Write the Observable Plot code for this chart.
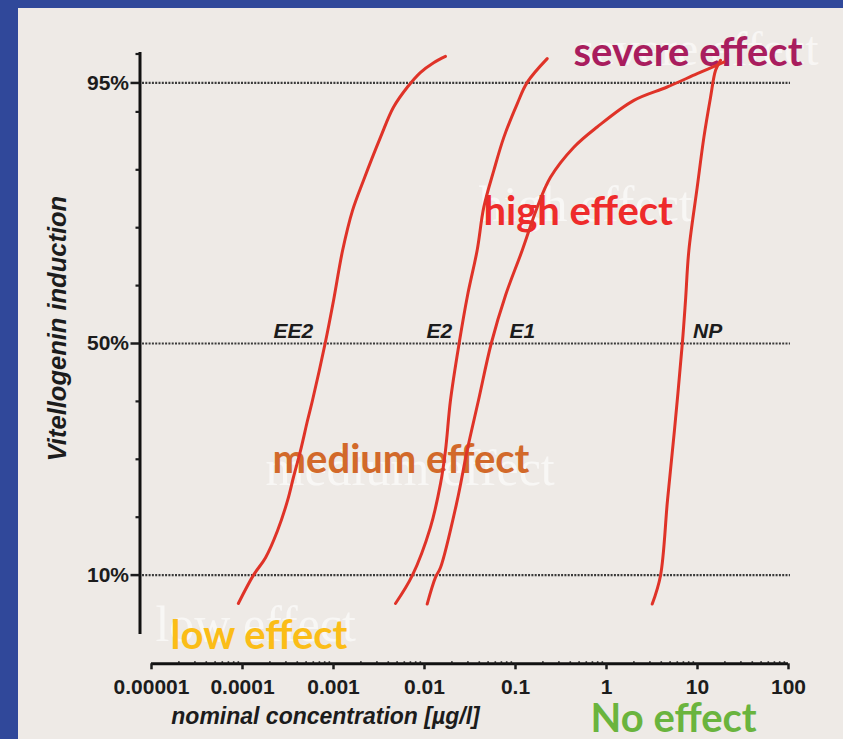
<!DOCTYPE html>
<html><head><meta charset="utf-8">
<script src="https://cdn.jsdelivr.net/npm/d3@7"></script>
<script src="https://cdn.jsdelivr.net/npm/@observablehq/plot@0.6"></script>
<style>
html,body{margin:0;padding:0;background:#30489a;width:843px;height:739px;overflow:hidden;}
#wrap{position:absolute;left:18px;top:8px;width:825px;height:731px;background:#eeeae6;}
</style></head><body><div id="wrap"></div>
<script>
// ---- data ----
const xTicks = [1e-5, 1e-4, 1e-3, 1e-2, 1e-1, 1, 10, 100];
const xTickLabels = ["0.00001", "0.0001", "0.001", "0.01", "0.1", "1", "10", "100"];
const yTicksMinor = [20, 30, 40, 60, 70, 80, 90, 100];
const yTicksLabeled = [10, 50, 95];
const yTickLabels = ["10%", "50%", "95%"];
const refLines = [10, 50, 95];

const concEE2 = [9.0e-5, 1.32e-4, 1.79e-4, 2.43e-4, 3.13e-4, 3.63e-4, 4.34e-4, 5.18e-4, 5.88e-4, 8.09e-4, 1.0e-3, 1.26e-3, 1.62e-3, 2.14e-3, 3.28e-3, 4.56e-3, 6.5e-3, 9.0e-3, 1.26e-2, 1.70e-2];
const pctEE2  = [5.1, 10, 13.0, 17.7, 22.9, 26.9, 31.5, 36.7, 40.2, 50, 57.4, 66.1, 73.0, 78.2, 85.6, 90.8, 94.3, 96.8, 98.5, 99.6];

const concE2 = [4.8e-3, 7.33e-3, 1.16e-2, 1.50e-2, 1.70e-2, 1.93e-2, 2.40e-2, 2.97e-2, 3.79e-2, 4.48e-2, 5.78e-2, 7.44e-2, 0.1044, 0.1345, 0.223];
const pctE2  = [5.1, 9.9, 18.2, 25.8, 31.5, 40.2, 50, 58.3, 66.1, 73.5, 79.9, 85.6, 91.4, 95.1, 99.2];

const concE1 = [1.07e-2, 1.32e-2, 1.5e-2, 2.29e-2, 2.94e-2, 3.92e-2, 5.41e-2, 7.76e-2, 0.1186, 0.173, 0.2424, 0.4375, 0.79, 2.0, 4.64, 9.93, 19.5];
const pctE1  = [5.0, 9.6, 11.3, 22.9, 31.5, 40.2, 50, 58.3, 66.1, 73.5, 78.7, 83.9, 87.4, 92.0, 94.3, 96.6, 98.6];

const concNP = [3.18, 3.92, 4.68, 5.58, 6.81, 7.38, 8.04, 9.93, 11.75, 13.9, 15.8, 17.9];
const pctNP  = [5.0, 9.9, 22.9, 35.0, 50, 57.4, 66.1, 77.0, 85.6, 92.5, 97.2, 98.9];

const seriesNames = ["EE2", "E2", "E1", "NP"];
const curveLabelX = [2.19e-4, 1.05e-2, 0.0859, 8.93];
const curveLabelY = [52.1, 52.1, 52.1, 52.1];

const effectLabels = ["severe effect", "high effect", "medium effect", "low effect", "No effect"];
const effectX = [0.434, 0.0445, 2.14e-4, 1.62e-5, 0.667];
const effectY = [100.2, 72.6, 29.9, -0.6, -14.8];
const effectColors = ["#a91d5e", "#ee2b2b", "#d2692a", "#fbbd17", "#6ab43e"];

const ghostLabels = ["high effect", "medium effect", "low effect"];
const ghostX = [0.0392, 1.79e-4, 1.106e-5];
const ghostY = [73.9, 28.3, 1.36];
const ghostSevere = ["severe effect"];
const ghostSevereX = [214];
const ghostSevereY = [100.8];

const xTitle = "nominal concentration [µg/l]";
const yTitle = "Vitellogenin induction";

// ---- build table ----
const concs = [concEE2, concE2, concE1, concNP];
const pcts = [pctEE2, pctE2, pctE1, pctNP];
const curves = seriesNames.flatMap((s, i) => concs[i].map((c, j) => ({series: s, conc: c, pct: pcts[i][j]})));

const minorX = xTicks.slice(0, -1).flatMap(d => d3.range(2, 10).map(k => d * k));
const labelOf = new Map(xTicks.map((t, i) => [t, xTickLabels[i]]));
const yLabelOf = new Map(yTicksLabeled.map((t, i) => [t, yTickLabels[i]]));

const AX = "Liberation Sans, Arial, sans-serif";
const EF = "Lato, sans-serif";

const chart = Plot.plot({
  width: 825, height: 731,
  marginLeft: 124, marginRight: 53, marginTop: 45.5, marginBottom: 106.5,
  style: {background: "transparent", overflow: "visible"},
  x: {type: "log", domain: [1e-5, 100], range: [133, 770], axis: null},
  y: {domain: [0, 100], range: [624.5, 45.5], axis: null},
  marks: [
    // ghost lettering
    Plot.text(ghostLabels, {x: ghostX, y: ghostY, text: d => d, textAnchor: "start", lineAnchor: "middle",
      fontFamily: "Liberation Serif, serif", fontSize: 50, fill: "#ffffff", fillOpacity: 0.6}),
    Plot.text(ghostSevere, {x: ghostSevereX, y: ghostSevereY, text: d => d, textAnchor: "end", lineAnchor: "middle",
      fontFamily: "Liberation Serif, serif", fontSize: 48, fill: "#ffffff", fillOpacity: 0.6}),
    // dotted reference lines
    Plot.ruleY(refLines, {stroke: "#3a3a3a", strokeWidth: 2.2, strokeDasharray: "2,1.3"}),
    // axes
    Plot.ruleX([xTicks[0]], {y1: 0, y2: 100, dx: -11.5, stroke: "#111", strokeWidth: 3, strokeLinecap: "square"}),
    Plot.ruleY([0], {x1: xTicks[0], x2: xTicks[xTicks.length - 1], dy: 30.8, stroke: "#111", strokeWidth: 3}),
    Plot.axisX(xTicks, {anchor: "bottom", label: null, dy: 30.8, tickSize: 6, tickPadding: 9, strokeWidth: 2.5,
      tickFormat: d => labelOf.get(d), fontSize: 21, fontWeight: "bold", fontFamily: AX, color: "#1c1c1c"}),
    Plot.axisX(minorX, {anchor: "top", label: null, dy: 609.8, tickSize: 3, tickFormat: () => "", strokeWidth: 1.6, color: "#1c1c1c"}),
    Plot.axisY(yTicksMinor, {anchor: "left", label: null, dx: -2.5, tickSize: 4, tickFormat: () => "", strokeWidth: 2.2, color: "#1c1c1c"}),
    Plot.axisY(yTicksLabeled, {anchor: "left", label: null, dx: -2.5, tickSize: 9, tickPadding: 2, strokeWidth: 2.5,
      tickFormat: d => yLabelOf.get(d), fontSize: 21, fontWeight: "bold", fontFamily: AX, color: "#1c1c1c"}),
    Plot.text([xTitle], {frameAnchor: "bottom-left", dx: 183, dy: 84, text: d => d, textAnchor: "middle", lineAnchor: "middle",
      fontSize: 23, fontWeight: "bold", fontStyle: "italic", fontFamily: AX, fill: "#1c1c1c"}),
    Plot.text([yTitle], {frameAnchor: "left", dx: -85, dy: -15, rotate: -90, text: d => d, textAnchor: "middle", lineAnchor: "middle",
      fontSize: 25.5, fontWeight: "bold", fontStyle: "italic", fontFamily: AX, fill: "#1c1c1c"}),
    // curve labels
    Plot.text(seriesNames, {x: curveLabelX, y: curveLabelY, text: d => d, textAnchor: "start", lineAnchor: "middle",
      fontSize: 21, fontWeight: "bold", fontStyle: "italic", fontFamily: AX, fill: "#1c1c1c"}),
    // effect labels
    Plot.text(effectLabels, {x: effectX, y: effectY, text: d => d, fill: effectColors, textAnchor: "start", lineAnchor: "middle",
      fontSize: 40, fontWeight: "bold", fontFamily: EF}),
    // dose-response curves
    Plot.line(curves, {x: "conc", y: "pct", z: "series", curve: "catmull-rom", stroke: "#df3328", strokeWidth: 3}),
  ]
});
document.getElementById("wrap").appendChild(chart);
</script></body></html>
